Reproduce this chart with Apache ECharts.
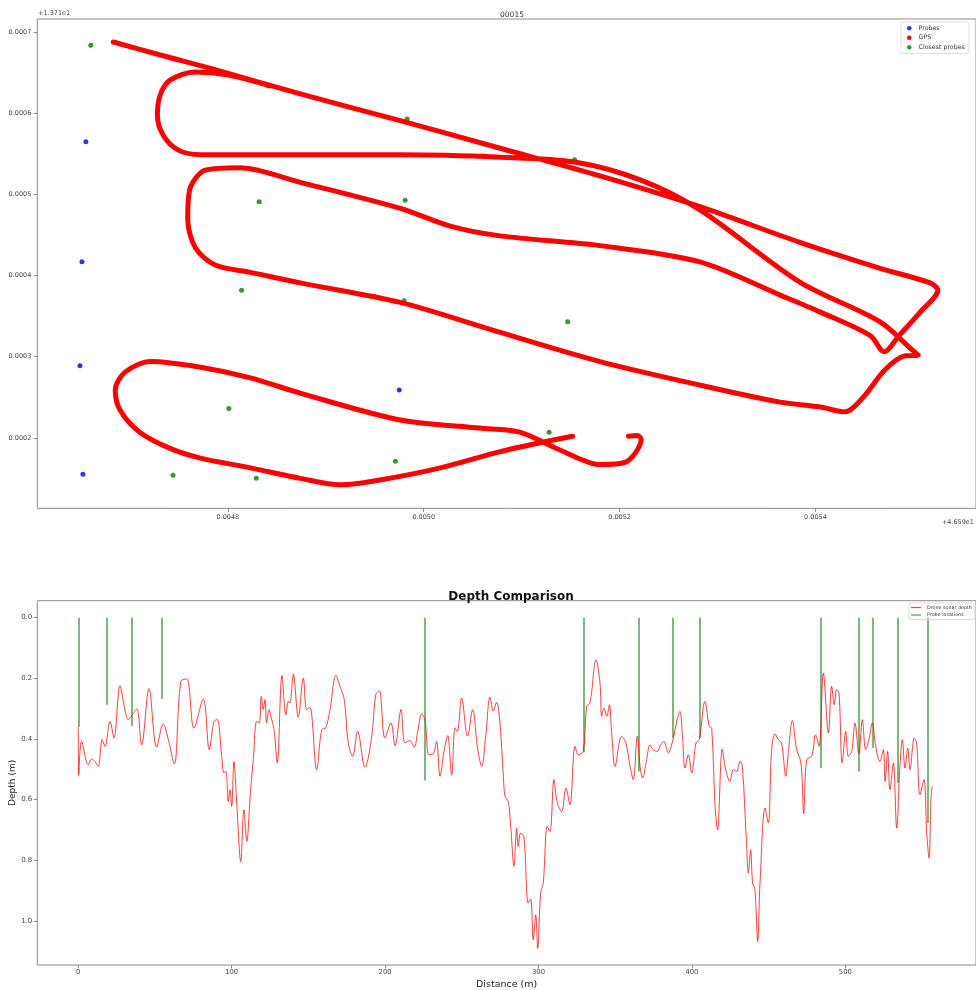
<!DOCTYPE html>
<html>
<head>
<meta charset="utf-8">
<script src="https://cdn.jsdelivr.net/npm/echarts@6/dist/echarts.min.js"></script>
<style>
  html, body { margin: 0; padding: 0; background: #fff; }
  #chart { width: 976px; height: 990px; }
</style>
</head>
<body>
<div id="chart"></div>
<script>
// Survey 00015. Positions are offsets from 46.59 E / 13.71 N, in millionths of a degree.
const LON_ORIGIN = 46.59;
const LAT_ORIGIN = 13.71;

// Probe positions
const probeLon = [4655, 4651, 4649, 4652, 4975];
const probeLat = [565, 417, 289, 155, 259];

// Probes closest to the boat track
const closestLon = [4660, 4841, 4983, 5154, 4832, 4981, 4814, 4980, 5147, 4801, 5128, 4971, 4744, 4829];
const closestLat = [684, 634, 593, 543, 491, 493, 382, 369, 343, 236, 207, 171, 154, 150];

// GPS track (upper legs)
const gpsLonA = [4683, 4731, 4787, 4874, 4976, 5078, 5180, 5282, 5384, 5466, 5517, 5525, 5507, 5486, 5470,
  5456, 5405, 5364, 5282, 5180, 5078, 5027, 4976, 4874, 4812, 4777, 4761, 4759, 4767, 4787, 4823,
  4874, 4976, 5078, 5180, 5282, 5364, 5405, 5430, 5448, 5471, 5491, 5505, 5499, 5466, 5384, 5282,
  5221, 5154, 5078, 4976, 4874, 4772, 4749, 4734, 4728, 4731, 4741, 4766, 4802, 4843];
const gpsLatA = [688, 672, 654, 624, 591, 557, 523, 485, 441, 409, 391, 382, 355, 327, 306,
  326, 355, 376, 417, 437, 449, 461, 483, 515, 533, 530, 506, 469, 434, 413, 404,
  391, 367, 330, 294, 265, 244, 238, 232, 249, 284, 301, 302, 308, 343, 392, 481,
  518, 540, 546, 549, 549, 549, 555, 573, 598, 623, 641, 651, 647, 634];
// GPS track (lower loop)
const gpsLonB = [5209, 5218, 5222, 5206, 5180, 5139, 5098, 5057, 4976, 4874, 4823, 4772, 4721, 4695, 4685, 4690,
  4710, 4741, 4772, 4823, 4874, 4915, 4955, 5017, 5078, 5119, 5152];
const gpsLatB = [202, 203, 198, 170, 167, 185, 207, 212, 222, 255, 274, 287, 294, 281, 259, 234,
  207, 187, 175, 163, 150, 142, 148, 163, 183, 194, 202];

// Depth profile along the track
const distance = [0, 0.3, 2.2, 6.5, 8.7, 10.9, 13.0, 15.6, 17.4, 20.7, 23.3, 27.2, 30.4, 32.6, 34.8, 38.1, 41.3, 46.1, 51.1, 55.4,
  58.7, 62.6, 66.8, 70.7, 75.4, 81.5, 85.4, 88.5, 90.6, 93.5, 95.0, 96.3, 97.8, 98.9, 100.0, 101.5, 103.3, 105.9, 108.0, 109.8,
  112.4, 114.1, 116.3, 118.0, 119.3, 120.6, 121.7, 122.8, 124.3, 126.1, 127.6, 129.7, 132.8, 135.4, 137.0, 138.0, 140.2, 143.4, 146.7, 148.9,
  151.0, 155.4, 158.7, 161.3, 164.1, 168.0, 170.6, 173.4, 176.0, 178.9, 182.1, 186.9, 191.3, 193.9, 196.2, 199.9, 203.8, 206.5, 210.4, 213.0,
  216.2, 219.0, 221.3, 223.9, 226.0, 228.6, 231.4, 233.6, 235.8, 238.6, 240.8, 243.4, 245.6, 247.1, 249.9, 253.8, 257.1, 260.4, 263.0, 265.6,
  268.4, 270.5, 272.7, 274.9, 277.1, 278.2, 280.3, 281.9, 284.0, 285.8, 286.8, 288.4, 290.5, 293.3, 294.9, 296.6, 298.2, 299.5, 301.4, 303.1,
  305.7, 307.5, 310.1, 312.3, 315.1, 317.9, 320.5, 323.8, 326.0, 329.2, 331.4, 333.6, 337.5, 340.1, 341.2, 342.7, 344.5, 346.2, 347.7, 349.9,
  354.2, 357.0, 359.7, 361.8, 364.4, 366.2, 367.9, 370.5, 372.7, 374.8, 377.4, 379.7, 381.8, 384.6, 387.9, 390.1, 392.2, 394.0, 395.5, 397.7,
  399.9, 402.7, 404.8, 408.5, 411.3, 412.9, 415.1, 416.7, 419.8, 422.0, 424.8, 427.0, 429.2, 431.4, 432.9, 435.7, 436.8, 438.3, 439.6, 441.1,
  442.9, 444.4, 447.7, 449.8, 452.0, 454.2, 456.3, 458.5, 461.2, 462.9, 465.5, 468.3, 471.1, 472.9, 474.8, 478.1, 480.7, 482.9, 485.7, 489.0,
  491.1, 492.8, 494.4, 495.9, 498.0, 500.3, 502.0, 504.2, 506.3, 508.9, 511.1, 513.3, 515.4, 517.6, 519.8, 522.6, 524.8, 525.9, 527.6, 529.1,
  531.3, 533.5, 535.6, 537.2, 538.9, 540.7, 542.2, 545.0, 546.5, 548.7, 551.3, 553.1, 554.6, 555.9, 556.7];
const depth = [0.36, 0.52, 0.408, 0.485, 0.466, 0.474, 0.49, 0.402, 0.424, 0.342, 0.397, 0.224, 0.303, 0.336, 0.323, 0.301, 0.419, 0.234, 0.427, 0.35,
  0.402, 0.482, 0.21, 0.202, 0.364, 0.268, 0.435, 0.342, 0.336, 0.457, 0.512, 0.507, 0.606, 0.567, 0.622, 0.474, 0.611, 0.804, 0.633, 0.738,
  0.562, 0.468, 0.342, 0.347, 0.26, 0.303, 0.27, 0.347, 0.303, 0.336, 0.369, 0.479, 0.191, 0.32, 0.276, 0.281, 0.186, 0.328, 0.199, 0.303,
  0.295, 0.501, 0.369, 0.364, 0.303, 0.19, 0.226, 0.27, 0.413, 0.457, 0.375, 0.493, 0.391, 0.254, 0.241, 0.397, 0.347, 0.422, 0.303, 0.413,
  0.405, 0.427, 0.375, 0.317, 0.336, 0.452, 0.449, 0.408, 0.523, 0.435, 0.389, 0.518, 0.364, 0.375, 0.265, 0.391, 0.303, 0.435, 0.49, 0.391,
  0.262, 0.308, 0.279, 0.347, 0.523, 0.589, 0.606, 0.688, 0.82, 0.694, 0.754, 0.71, 0.721, 0.941, 0.928, 1.062, 0.98, 1.09, 0.908, 0.875,
  0.688, 0.705, 0.534, 0.611, 0.639, 0.562, 0.617, 0.424, 0.452, 0.441, 0.292, 0.281, 0.139, 0.215, 0.325, 0.298, 0.325, 0.287, 0.38, 0.49,
  0.391, 0.413, 0.49, 0.534, 0.391, 0.49, 0.529, 0.468, 0.419, 0.435, 0.441, 0.419, 0.408, 0.446, 0.397, 0.342, 0.309, 0.402, 0.496, 0.452,
  0.512, 0.413, 0.402, 0.276, 0.358, 0.364, 0.62, 0.70, 0.433, 0.501, 0.54, 0.501, 0.507, 0.474, 0.49, 0.754, 0.842, 0.765, 0.875, 0.897,
  1.067, 0.875, 0.628, 0.677, 0.435, 0.383, 0.402, 0.413, 0.523, 0.441, 0.339, 0.435, 0.479, 0.646, 0.468, 0.457, 0.386, 0.424, 0.183, 0.38,
  0.226, 0.287, 0.237, 0.248, 0.479, 0.375, 0.457, 0.441, 0.347, 0.449, 0.336, 0.435, 0.402, 0.347, 0.424, 0.474, 0.435, 0.54, 0.441, 0.567,
  0.479, 0.694, 0.49, 0.402, 0.496, 0.43, 0.501, 0.397, 0.413, 0.584, 0.534, 0.71, 0.793, 0.589, 0.556];

// Probe readings along the profile
const probeDistance = [0, 18.7, 34.8, 54.6, 226.0, 329.5, 365.5, 387.7, 405.3, 483.7, 508.9, 518.1, 534.1, 554.0];
const probeDepth = [0.36, 0.287, 0.356, 0.268, 0.537, 0.444, 0.507, 0.397, 0.397, 0.496, 0.507, 0.43, 0.545, 0.677];

// Tick values
const lonTicks = [4800, 5000, 5200, 5400];
const latTicks = [200, 300, 400, 500, 600, 700];
const distanceTicks = [0, 100, 200, 300, 400, 500];
const depthTicks = [0, 0.2, 0.4, 0.6, 0.8, 1.0];

const zip = (a, b) => a.map((v, i) => [v, b[i]]);

const FONT = 'DejaVu Sans';
const AXIS_COLOR = '#8a8a8a';
const LABEL_COLOR = '#444';
const SONAR_RED = 'rgba(255,0,0,0.75)';
const PROBE_GREEN = 'rgba(20,130,20,0.75)';

function valueAxis(gridIndex, range, ticks, labelOpts, extra) {
  return Object.assign({
    type: 'value',
    gridIndex: gridIndex,
    min: range[0], max: range[1],
    splitLine: { show: false },
    axisLine: { show: false, onZero: false },
    axisTick: { show: true, length: 3.5, customValues: ticks, lineStyle: { color: AXIS_COLOR, width: 1 } },
    axisLabel: Object.assign({ customValues: ticks, color: LABEL_COLOR, fontFamily: FONT, fontSize: 6.5 }, labelOpts)
  }, extra || {});
}

// matplotlib-style offset text, e.g. 13.71 -> "+1.371e1"
const offsetText = v => '+' + (v / 10).toFixed(4).replace(/0+$/, '') + 'e1';

const chart = echarts.init(document.getElementById('chart'), null, { renderer: 'canvas' });

chart.setOption({
  animation: false,
  backgroundColor: '#fff',
  textStyle: { fontFamily: FONT },
  title: [
    { text: '00015', left: 507, top: 6, textAlign: 'center',
      textStyle: { fontSize: 7.5, fontWeight: 'normal', color: '#333', fontFamily: FONT } },
    { text: 'Depth Comparison', left: 506, top: 586, textAlign: 'center',
      textStyle: { fontSize: 12, fontWeight: 'bold', color: '#111', fontFamily: FONT } }
  ],
  legend: [
    {
      data: [
        { name: 'Probes', icon: 'circle', itemStyle: { color: '#0000ff' } },
        { name: 'GPS', icon: 'circle', itemStyle: { color: '#ff0000' } },
        { name: 'Closest probes', icon: 'circle', itemStyle: { color: '#008000' } }
      ],
      orient: 'vertical', left: 901, top: 22,
      itemWidth: 4.5, itemHeight: 4.5, itemGap: 3,
      padding: [3, 4, 3, 6],
      borderColor: '#ddd', borderWidth: 1, borderRadius: 2,
      textStyle: { fontSize: 6.3, color: '#333', fontFamily: FONT, lineHeight: 6.5, padding: [0, 0, 0, 2] }
    },
    {
      data: [
        { name: 'Drone sonar depth', icon: 'rect', itemStyle: { color: SONAR_RED, borderWidth: 0 } },
        { name: 'Probe locations', icon: 'rect', itemStyle: { color: PROBE_GREEN, borderWidth: 0 } }
      ],
      orient: 'vertical', left: 909, top: 603,
      itemWidth: 10, itemHeight: 1.2, itemGap: 2.5,
      padding: [2, 3, 2, 2],
      borderColor: '#ddd', borderWidth: 1, borderRadius: 2,
      itemStyle: { borderWidth: 0 },
      lineStyle: { width: 0, opacity: 0 },
      textStyle: { fontSize: 4.8, color: '#333', fontFamily: FONT, lineHeight: 4.8, padding: [0, 0, 0, 1] }
    }
  ],
  grid: [
    { left: 37.3, top: 19, right: 0, height: 489.3, show: true, borderColor: AXIS_COLOR, borderWidth: 1,
      containLabel: false, outerBoundsMode: 'none' },
    { left: 37.3, top: 600.7, right: 0, height: 364.3, show: true, borderColor: AXIS_COLOR, borderWidth: 1,
      containLabel: false, outerBoundsMode: 'none' }
  ],
  xAxis: [
    valueAxis(0, [4605.4, 5563.9], lonTicks, { margin: 6, formatter: v => (v / 1e6).toFixed(4) }),
    valueAxis(1, [-26.7, 585.2], distanceTicks, { margin: 4, fontSize: 6.8 }, {
      name: 'Distance (m)', nameLocation: 'middle', nameGap: 15, nameMoveOverlap: false,
      nameTextStyle: { fontSize: 9.5, color: '#222', fontFamily: FONT }
    })
  ],
  yAxis: [
    valueAxis(0, [113.1, 716.4], latTicks, { margin: 6, formatter: v => (v / 1e6).toFixed(4) }),
    valueAxis(1, [-0.056, 1.145], depthTicks, { margin: 5, fontSize: 7, formatter: v => v.toFixed(1) }, {
      inverse: true,
      name: 'Depth (m)', nameLocation: 'middle', nameGap: 20, nameRotate: 90, nameMoveOverlap: false,
      nameTextStyle: { fontSize: 9, color: '#222', fontFamily: FONT }
    })
  ],
  graphic: [
    { type: 'text', left: 38, top: 10,
      style: { text: offsetText(LAT_ORIGIN), fontSize: 6.5, fill: '#444', fontFamily: FONT } },
    { type: 'text', right: 2, top: 519,
      style: { text: offsetText(LON_ORIGIN), fontSize: 6.5, fill: '#444', fontFamily: FONT } }
  ],
  series: [
    {
      name: 'Probes', type: 'scatter', xAxisIndex: 0, yAxisIndex: 0,
      data: zip(probeLon, probeLat), symbolSize: 5,
      itemStyle: { color: '#0000ff' }
    },
    {
      name: 'GPS', type: 'line', xAxisIndex: 0, yAxisIndex: 0,
      data: zip(gpsLonA, gpsLatA), showSymbol: false, symbol: 'circle', smooth: 0.3,
      itemStyle: { color: '#ff0000' },
      lineStyle: { color: '#ff0000', width: 5, cap: 'round', join: 'round' }
    },
    {
      name: 'GPS', type: 'line', xAxisIndex: 0, yAxisIndex: 0,
      data: zip(gpsLonB, gpsLatB), showSymbol: false, symbol: 'circle', smooth: 0.3,
      itemStyle: { color: '#ff0000' },
      lineStyle: { color: '#ff0000', width: 5, cap: 'round', join: 'round' }
    },
    {
      name: 'Closest probes', type: 'scatter', xAxisIndex: 0, yAxisIndex: 0,
      data: zip(closestLon, closestLat), symbolSize: 5,
      itemStyle: { color: '#008000' }
    },
    {
      name: 'Drone sonar depth', type: 'line', xAxisIndex: 1, yAxisIndex: 1,
      data: zip(distance, depth), showSymbol: false, symbol: 'none', smooth: 0.35,
      itemStyle: { color: SONAR_RED },
      lineStyle: { color: SONAR_RED, width: 1 }
    },
    {
      name: 'Probe locations', type: 'lines', coordinateSystem: 'cartesian2d', xAxisIndex: 1, yAxisIndex: 1,
      data: probeDistance.map((d, i) => ({ coords: [[d, 0], [d, probeDepth[i]]] })),
      itemStyle: { color: PROBE_GREEN },
      lineStyle: { color: PROBE_GREEN, width: 1.5, opacity: 1 }
    }
  ]
});
</script>
</body>
</html>
